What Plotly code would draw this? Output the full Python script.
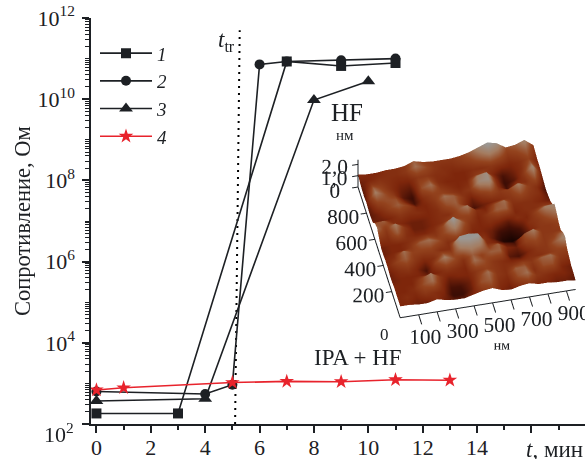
import plotly.graph_objects as go

W, H = 587, 459
L, R, T, B = 91, 585, 17.7, 424.3
INK = "#1d2024"
RED = "#e8232c"
SERIF = "Liberation Serif"

# series (time, min ; resistance, Ohm)
s1_t = [0, 3, 7, 9, 11]
s1_r = [182, 182, 8.5e10, 6.6e10, 7.8e10]
s2_t = [0, 4, 5, 6, 7, 9, 11]
s2_r = [630, 550, 930, 7.2e10, 8.5e10, 9.1e10, 1.0e11]
s3_t = [0, 4, 8, 10]
s3_r = [370, 420, 9.5e9, 2.75e10]
s4_t = [0, 1, 5, 7, 9, 11, 13]
s4_r = [690, 780, 1050, 1120, 1100, 1230, 1200]
ttr_t = [5.1, 5.27]
ttr_r = [1e2, 5e11]

x_ticks = [0, 2, 4, 6, 8, 10, 12, 14, 16, 18]
x_labels = ["0", "2", "4", "6", "8", "10", "12", "14", "", ""]
x_minor = [1, 3, 5, 7, 9, 11, 13, 15, 17]
y_ticks = [1e2, 1e4, 1e6, 1e8, 1e10, 1e12]
y_labels = ["", "10<sup>4</sup>", "10<sup>6</sup>", "10<sup>8</sup>",
            "10<sup>10</sup>", "10<sup>12</sup>"]
y_minor = [m * 10.0 ** e for e in range(2, 12) for m in range(1, 10) if not (m == 1 and e % 2 == 0)]

# AFM inset: heights in tenths of a nm; first row is the far edge
afm_x = [0, 50, 100, 150, 200, 250, 300, 350, 400, 450, 500, 550, 600, 650, 700, 750, 800, 850, 900, 950]
afm_y = [1000, 950, 900, 850, 800, 750, 700, 650, 600, 550, 500, 450, 400, 350, 300, 250, 200, 150, 100, 50, 0]
afm_z = [
    [11, 10, 10, 11, 11, 12, 15, 13, 12, 12, 12, 13, 15, 18, 21, 19, 14, 15, 18, 12],
    [9, 10, 11, 11, 11, 12, 16, 14, 12, 11, 11, 12, 13, 15, 17, 15, 12, 13, 15, 11],
    [8, 12, 12, 11, 10, 10, 12, 12, 11, 11, 10, 10, 11, 11, 12, 11, 10, 11, 13, 10],
    [8, 15, 13, 11, 9, 8, 13, 14, 11, 10, 10, 10, 12, 13, 10, 7, 9, 11, 15, 10],
    [9, 17, 14, 12, 8, 6, 14, 16, 12, 11, 10, 11, 17, 19, 11, 6, 8, 12, 18, 9],
    [8, 13, 14, 14, 10, 7, 11, 13, 13, 12, 11, 12, 18, 19, 11, 7, 11, 11, 15, 8],
    [8, 10, 13, 15, 13, 10, 10, 12, 16, 15, 12, 9, 12, 14, 12, 13, 17, 13, 11, 7],
    [9, 9, 10, 12, 11, 11, 10, 11, 14, 15, 11, 7, 9, 10, 11, 12, 14, 12, 11, 8],
    [14, 15, 11, 10, 9, 9, 10, 11, 11, 14, 17, 11, 10, 14, 16, 11, 11, 11, 10, 9],
    [16, 12, 17, 12, 9, 9, 10, 11, 13, 13, 13, 10, 12, 15, 15, 10, 11, 11, 12, 12],
    [12, 11, 15, 11, 10, 10, 11, 14, 21, 15, 11, 10, 11, 10, 8, 11, 10, 13, 17, 18],
    [9, 10, 10, 11, 12, 13, 12, 14, 17, 13, 10, 10, 9, 6, 5, 7, 11, 12, 14, 16],
    [9, 10, 10, 12, 15, 16, 14, 11, 12, 12, 11, 11, 8, 4, 3, 5, 10, 12, 12, 13],
    [10, 11, 16, 13, 13, 13, 11, 11, 21, 22, 21, 11, 10, 8, 7, 14, 17, 12, 12, 12],
    [10, 13, 15, 12, 10, 11, 14, 13, 17, 18, 17, 13, 15, 10, 9, 13, 14, 12, 13, 16],
    [9, 11, 12, 10, 7, 13, 17, 14, 11, 15, 13, 15, 15, 8, 7, 10, 12, 12, 15, 18],
    [9, 10, 10, 10, 9, 10, 12, 11, 10, 16, 14, 12, 11, 10, 10, 11, 11, 12, 13, 13],
    [10, 10, 10, 13, 17, 12, 9, 10, 10, 12, 13, 12, 11, 12, 13, 12, 15, 16, 12, 11],
    [10, 10, 11, 14, 16, 11, 7, 7, 9, 13, 16, 12, 11, 15, 15, 11, 14, 14, 10, 9],
    [10, 11, 10, 12, 11, 10, 6, 6, 9, 14, 15, 11, 10, 14, 16, 12, 11, 10, 10, 9],
    [10, 10, 9, 9, 11, 9, 8, 8, 10, 12, 13, 10, 9, 11, 12, 10, 10, 9, 9, 8],
]
afm_nm = [[v / 10 for v in row] for row in afm_z]

fig = go.Figure()


def add(t, r, name, sym, size, color):
    fig.add_trace(go.Scatter(
        x=t, y=r, mode="lines+markers", name=f"<i>{name}</i>",
        line=dict(color=color, width=1.6),
        marker=dict(symbol=sym, size=size, color=color),
        cliponaxis=False,
    ))


fig.add_trace(go.Scatter(x=ttr_t, y=ttr_r, mode="lines", showlegend=False,
                         line=dict(color="#000000", width=2, dash="2px,5px")))
add(s1_t, s1_r, "1", "square", 10, INK)
add(s2_t, s2_r, "2", "circle", 10, INK)
add(s3_t, s3_r, "3", "triangle-up", 12, INK)
add(s4_t, s4_r, "4", "star", 11, RED)

fig.add_trace(go.Surface(
    x=afm_x, y=afm_y, z=afm_nm, scene="scene", showscale=False, cmin=0.3, cmax=2.2,
    colorscale=[[0, "#1e0502"], [0.2, "#5c1507"], [0.37, "#a8330f"], [0.55, "#c55a28"],
                [0.72, "#dba681"], [0.9, "#cfcac4"], [1, "#c9c8c4"]],
    lighting=dict(ambient=0.75, diffuse=0.35, specular=0.05, roughness=0.9),
    lightposition=dict(x=-1000, y=-500, z=800),
    hoverinfo="skip",
))


def ax3d(vals, text, title="", ticklen=6):
    return dict(
        tickmode="array", tickvals=vals, ticktext=text, showgrid=False, zeroline=False,
        showbackground=False, showline=True, linecolor=INK, linewidth=2, ticks="outside",
        ticklen=ticklen, tickcolor=INK, tickwidth=2, tickangle=0,
        tickfont=dict(family=SERIF, size=16, color=INK),
        title=dict(text=title, font=dict(family=SERIF, size=14, color=INK)),
    )


def fx(px):
    return (px - L) / (R - L)


def fy(py):
    return (B - py) / (B - T)


def note(px, py, text, size=23, angle=0, anchor="center"):
    return dict(x=fx(px), y=fy(py), xref="paper", yref="paper", text=text, showarrow=False,
                font=dict(family=SERIF, size=size, color=INK), xanchor=anchor, yanchor="middle",
                textangle=angle)


fig.update_layout(
    width=W, height=H, autosize=False, paper_bgcolor="white", plot_bgcolor="white",
    margin=dict(l=L, r=W - R, t=T, b=H - B),
    font=dict(family=SERIF, color=INK, size=20),
    xaxis=dict(range=[-0.2, 17.97], tickmode="array", tickvals=x_ticks, ticktext=x_labels,
               automargin=False,
               ticks="outside", ticklen=7, tickwidth=1.5, tickcolor=INK, showgrid=False,
               zeroline=False, showline=True, linecolor=INK, linewidth=1.5, ticklabelstandoff=-4,
               tickfont=dict(family=SERIF, size=22, color=INK),
               minor=dict(tickmode="array", tickvals=x_minor, ticks="outside", ticklen=4,
                          tickwidth=1.5, tickcolor=INK, showgrid=False)),
    yaxis=dict(type="log", range=[2, 12], tickmode="array", tickvals=y_ticks, ticktext=y_labels,
               automargin=False,
               ticks="outside", ticklen=7, tickwidth=1.5, tickcolor=INK, showgrid=False,
               zeroline=False, showline=True, linecolor=INK, linewidth=1.5, ticklabelstandoff=3,
               tickfont=dict(family=SERIF, size=22, color=INK),
               minor=dict(tickmode="array", tickvals=y_minor, ticks="outside", ticklen=4,
                          tickwidth=1, tickcolor=INK, showgrid=False)),
    legend=dict(x=fx(95), y=fy(34), xanchor="left", yanchor="top", bgcolor="rgba(0,0,0,0)",
                itemwidth=52, font=dict(family=SERIF, size=19, color=INK), tracegroupgap=0),
    scene=dict(
        domain=dict(x=[fx(320), fx(585)], y=[fy(355), fy(115)]),
        camera=dict(eye=dict(x=-0.286, y=-0.717, z=0.641), up=dict(x=0, y=0, z=1),
                    center=dict(x=-0.13, y=-0.033, z=-0.061), projection=dict(type="orthographic")),
        aspectmode="manual", aspectratio=dict(x=1.5, y=1.58, z=0.32),
        xaxis=dict(ax3d([100, 200, 300, 400, 500, 600, 700, 800, 900],
                        ["100", "", "300", "", "500", "", "700", "", "900"], "нм"), range=[0, 950]),
        yaxis=dict(ax3d([200, 400, 600, 800], ["200", "400", "600", "800"], ticklen=14), range=[0, 1000]),
        zaxis=dict(ax3d([0, 1, 2], ["0", "1,0", "2,0"]), range=[0, 2.4]),
        bgcolor="rgba(0,0,0,0)",
    ),
    annotations=[
        note(226, 41, "<i>t</i><sub>tr</sub>"),
        note(347, 112, "HF", size=25),
        note(358, 358, "IPA + HF", size=23),
        note(554, 450, "<i>t</i>, мин", size=23),
        note(22, 221, "Сопротивление, Ом", size=22.5, angle=-90),
        note(76, 433, "10<sup>2</sup>", size=22, anchor="right"),
        note(384, 335, "0", size=17),
        note(345, 135, "нм", size=15),
    ],
)

fig.write_html("out.html", config=dict(displayModeBar=False),
               post_script="document.body.style.margin='0';")
